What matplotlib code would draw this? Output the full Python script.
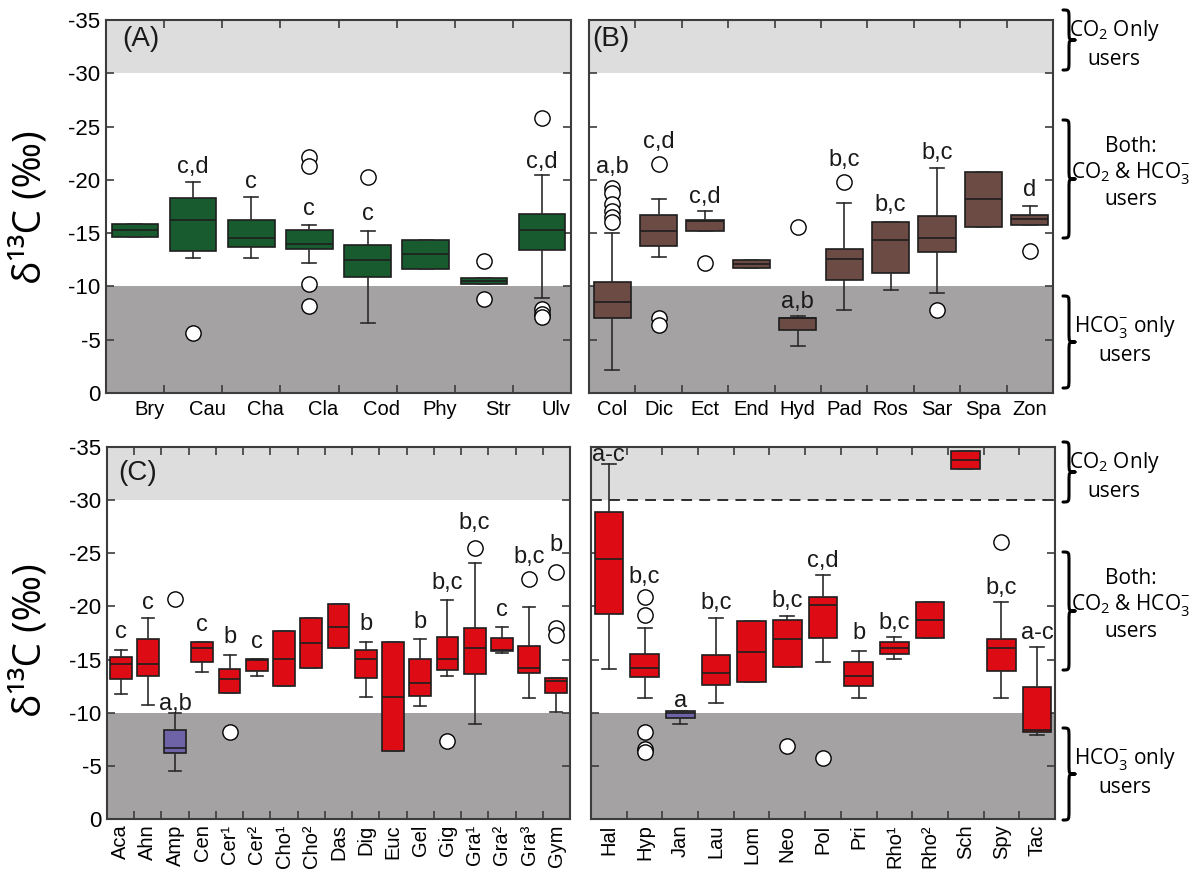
import numpy as np
import matplotlib
matplotlib.use("Agg")
import matplotlib.pyplot as plt
from matplotlib.path import Path
from matplotlib.patches import PathPatch

plt.rcParams['font.family'] = ['Liberation Sans', 'DejaVu Sans']
plt.rcParams['axes.unicode_minus'] = False
plt.rcParams['mathtext.fontset'] = 'custom'
plt.rcParams['mathtext.rm'] = 'Open Sans'
plt.rcParams['mathtext.it'] = 'Open Sans:italic'
plt.rcParams['mathtext.bf'] = 'Open Sans:bold'

# ---------------- data: delta 13C (per mil) ----------------
# Panel A - green algae
names_a = ["Bry", "Cau", "Cha", "Cla", "Cod", "Phy", "Str", "Ulv"]
q1_a = [-15.9, -18.3, -16.2, -15.25, -13.9, -14.4, -10.8, -16.8]
med_a = [-15.3, -16.2, -14.5, -14.0, -12.5, -13.0, -10.5, -15.3]
q3_a = [-14.6, -13.3, -13.7, -13.5, -10.9, -11.6, -10.25, -13.4]
wlo_a = [-15.9, -19.8, -18.4, -15.8, -15.2, -14.4, -10.8, -20.5]
whi_a = [-14.6, -12.7, -12.7, -12.2, -6.6, -11.6, -10.25, -8.9]
fliers_a = [[], [-5.6], [], [-22.1, -21.3, -10.25, -8.2], [-20.3], [],
            [-12.4, -8.8], [-25.8, -7.9, -7.4, -7.1]]
sig_a = [None, "c,d", "c", "c", "c", None, None, "c,d"]
sig_y_a = [None, -20.6, -19.2, -16.7, -16.2, None, None, -21.1]

# Panel B - brown algae
names_b = ["Col", "Dic", "Ect", "End", "Hyd", "Pad", "Ros", "Sar", "Spa", "Zon"]
q1_b = [-10.4, -16.7, -16.2, -12.5, -7.0, -13.5, -16.0, -16.6, -20.7, -16.7]
med_b = [-8.5, -15.2, -16.1, -12.1, -7.0, -12.6, -14.4, -14.5, -18.2, -16.3]
q3_b = [-7.0, -13.8, -15.2, -11.7, -5.9, -10.6, -11.3, -13.2, -15.6, -15.8]
wlo_b = [-15.0, -18.2, -17.1, -12.5, -7.25, -17.8, -16.0, -21.1, -20.7, -17.5]
whi_b = [-2.2, -12.8, -15.2, -11.7, -4.4, -7.8, -9.7, -9.4, -15.6, -15.8]
fliers_b = [[-19.2, -18.8, -17.7, -17.1, -16.5, -16.0], [-21.5, -7.0, -6.4],
            [-12.2], [], [-15.6], [-19.8], [], [-7.8], [], [-13.3]]
sig_b = ["a,b", "c,d", "c,d", None, "a,b", "b,c", "b,c", "b,c", None, "d"]
sig_y_b = [-20.6, -23.0, -17.8, None, -8.0, -21.3, -17.1, -22.0, None, -18.5]

# Panel C - red algae (Aca - Gym)
names_c = ["Aca", "Ahn", "Amp", "Cen", "Cer¹", "Cer²", "Cho¹", "Cho²", "Das",
           "Dig", "Euc", "Gel", "Gig", "Gra¹", "Gra²", "Gra³", "Gym"]
q1_c = [-15.2, -16.9, -8.4, -16.65, -14.1, -15.05, -17.65, -18.9, -20.2,
        -15.9, -16.7, -15.05, -17.1, -18.0, -17.0, -16.3, -13.3]
med_c = [-14.6, -14.6, -6.7, -16.1, -13.2, -15.0, -15.1, -16.55, -18.1,
         -15.1, -11.5, -12.75, -15.05, -16.05, -15.9, -14.2, -13.0]
q3_c = [-13.2, -13.5, -6.2, -14.8, -11.9, -13.9, -12.5, -14.2, -16.05,
        -13.3, -6.4, -11.6, -14.0, -13.6, -15.8, -13.7, -11.85]
wlo_c = [-15.9, -18.9, -10.0, -16.7, -15.4, -15.05, -17.65, -18.9, -20.2,
         -16.7, -16.7, -16.9, -20.6, -24.1, -18.1, -19.9, -13.3]
whi_c = [-11.8, -10.7, -4.5, -13.8, -11.9, -13.5, -12.5, -14.2, -16.05,
         -11.5, -6.4, -10.6, -13.5, -8.9, -15.6, -11.35, -10.05]
fliers_c = [[], [], [-20.7], [], [-8.15], [], [], [], [], [], [], [],
            [-7.3], [-25.5], [], [-22.6], [-23.2, -18.0, -17.3]]
sig_c = ["c", "c", "a,b", "c", "b", "c", None, None, None, "b", None, "b",
         "b,c", "b,c", "c", "b,c", "b"]
sig_y_c = [-17.0, -19.8, -10.3, -17.7, -16.55, -16.1, None, None, None,
           -17.8, None, -18.0, -21.6, -27.3, -19.1, -24.1, -25.2]

# Panel D - red algae (Hal - Tac)
names_d = ["Hal", "Hyp", "Jan", "Lau", "Lom", "Neo", "Pol", "Pri", "Rho¹",
           "Rho²", "Sch", "Spy", "Tac"]
q1_d = [-28.9, -15.5, -10.2, -15.4, -18.6, -18.7, -20.9, -14.8, -16.65,
        -20.4, -34.6, -16.9, -12.4]
med_d = [-24.5, -14.2, -10.0, -13.7, -15.7, -16.9, -20.1, -13.5, -16.1,
         -18.7, -33.8, -16.1, -8.4]
q3_d = [-19.3, -13.35, -9.5, -12.6, -12.85, -14.3, -17.0, -12.5, -15.5,
        -17.0, -32.9, -13.9, -8.15]
wlo_d = [-33.4, -18.0, -10.2, -18.9, -18.6, -19.1, -23.0, -15.8, -17.1,
         -20.4, -34.6, -20.4, -16.2]
whi_d = [-14.1, -11.4, -8.9, -10.9, -12.85, -14.3, -14.8, -11.4, -15.05,
         -17.0, -32.9, -11.4, -7.9]
fliers_d = [[], [-20.9, -19.2, -8.2, -6.6, -6.3], [], [], [], [-6.9], [-5.7],
            [], [], [], [], [-26.1], []]
sig_d = ["a-c", "b,c", "a", "b,c", None, "b,c", "c,d", "b", "b,c", None,
         None, "b,c", "a-c"]
sig_y_d = [-33.7, -22.2, -10.5, -19.8, None, -19.9, -23.7, -16.9, -17.9,
           None, None, -21.2, -16.9]

y_ticks = [0, -5, -10, -15, -20, -25, -30, -35]

# ---------------- styling ----------------
W, H = 1199, 873
GREEN = '#175b2e'
BROWN = '#6b4b44'
RED = '#dc0b14'
PURPLE = '#6e63a7'
LIGHT = '#dcdddc'
DARK = '#a4a2a3'
FRAME = '#3c3c3c'
EDGE = '#1e1e1e'

fig = plt.figure(figsize=(W / 100, H / 100), dpi=100)


def add_axes_px(left, top, right, bottom):
    return fig.add_axes([left / W, 1 - bottom / H, (right - left) / W,
                         (bottom - top) / H])


def draw_panel(ax, names, q1, med, q3, wlo, whi, fliers, colors, sig, sig_y,
               show_ylabels, rotate, label_shift=0.0, cap_px=14):
    n = len(names)
    pos = np.arange(n)
    stats = [dict(med=med[i], q1=q1[i], q3=q3[i], whislo=wlo[i],
                  whishi=whi[i], fliers=fliers[i]) for i in range(n)]
    ax_w_px = ax.get_position().width * W
    cap = cap_px / (ax_w_px / n)

    ax.axhspan(-35, -30, color=LIGHT, lw=0, zorder=0)
    ax.axhspan(-10, 0, color=DARK, lw=0, zorder=0)

    bp = ax.bxp(stats, positions=pos, widths=0.8, capwidths=cap,
                patch_artist=True, showfliers=True,
                boxprops=dict(edgecolor=EDGE, linewidth=1.2),
                medianprops=dict(color=EDGE, linewidth=1.2),
                whiskerprops=dict(color='#2b2b2b', linewidth=1.2),
                capprops=dict(color='#2b2b2b', linewidth=1.2),
                flierprops=dict(marker='o', markerfacecolor='white',
                                markeredgecolor='black', markersize=11,
                                markeredgewidth=1.0))
    for patch, c in zip(bp['boxes'], colors):
        patch.set_facecolor(c)

    for i, (s, y) in enumerate(zip(sig, sig_y)):
        if s is not None:
            ax.text(i, y, s, ha='center', va='baseline', fontsize=17,
                    color='#1a1a1a', zorder=5)

    ax.set_xlim(-0.5, n - 0.5)
    ax.set_ylim(0, -35)
    ax.set_yticks(y_ticks)
    if show_ylabels:
        ax.set_yticklabels([str(v) for v in y_ticks], fontsize=16)
    else:
        ax.set_yticklabels([])
    ax.set_xticks(pos[:-1] + 0.5)
    ax.set_xticklabels([])
    ax.set_xticks(pos + label_shift, minor=True)
    ax.set_xticklabels(names, minor=True, fontsize=14.5,
                       rotation=90 if rotate else 0)
    ax.tick_params(which='major', direction='in', length=6, width=1.2,
                   color=FRAME, top=True, bottom=True, left=True, right=True,
                   pad=4)
    ax.tick_params(which='minor', length=0, pad=5 if not rotate else 4)
    for sp in ax.spines.values():
        sp.set_color(FRAME)
        sp.set_linewidth(1.5)
        sp.set_zorder(6)


ax_a = add_axes_px(106, 20, 571, 393)
ax_b = add_axes_px(589, 20, 1053, 393)
ax_c = add_axes_px(107, 447, 570, 819)
ax_d = add_axes_px(591, 447, 1055, 819)

draw_panel(ax_a, names_a, q1_a, med_a, q3_a, wlo_a, whi_a, fliers_a,
           [GREEN] * len(names_a), sig_a, sig_y_a, True, False,
           label_shift=0.24)
draw_panel(ax_b, names_b, q1_b, med_b, q3_b, wlo_b, whi_b, fliers_b,
           [BROWN] * len(names_b), sig_b, sig_y_b, False, False)
colors_c = [PURPLE if nm == "Amp" else RED for nm in names_c]
draw_panel(ax_c, names_c, q1_c, med_c, q3_c, wlo_c, whi_c, fliers_c,
           colors_c, sig_c, sig_y_c, True, True, cap_px=12)
colors_d = [PURPLE if nm == "Jan" else RED for nm in names_d]
draw_panel(ax_d, names_d, q1_d, med_d, q3_d, wlo_d, whi_d, fliers_d,
           colors_d, sig_d, sig_y_d, False, True)
ax_d.axhline(-30, color='#1e1e1e', lw=1.3, ls=(0, (6, 4)), zorder=1)

# panel letters
for ax, lab, xy in [(ax_a, "(A)", (0.035, 0.95)), (ax_b, "(B)", (0.006, 0.95)),
                    (ax_c, "(C)", (0.025, 0.93))]:
    ax.text(xy[0], xy[1], lab, transform=ax.transAxes, fontsize=20,
            ha='left', va='center', color='#1a1a1a', zorder=7)

# y-axis titles
ylab_font = ['Open Sans', 'DejaVu Sans']
for yc in (207, 640):
    fig.text(30 / W, 1 - yc / H, "δ¹³C (‰)", rotation=90, fontsize=28,
             family=ylab_font, ha='center', va='center')


# curly braces and carbon-use annotations on the right
def brace(x0, yt, yb, w=12, lw=2.2):
    ym = (yt + yb) / 2
    xm = x0 + w / 2
    r = min(9, (yb - yt) / 6)
    pts = [(x0, yt), (xm, yt), (xm, yt), (xm, yt + r),
           (xm, ym - r),
           (xm, ym), (xm, ym), (x0 + w, ym),
           (xm, ym), (xm, ym), (xm, ym + r),
           (xm, yb - r),
           (xm, yb), (xm, yb), (x0, yb)]
    codes = [Path.MOVETO, Path.CURVE4, Path.CURVE4, Path.CURVE4,
             Path.LINETO,
             Path.CURVE4, Path.CURVE4, Path.CURVE4,
             Path.CURVE4, Path.CURVE4, Path.CURVE4,
             Path.LINETO,
             Path.CURVE4, Path.CURVE4, Path.CURVE4]
    verts = [(x / W, 1 - y / H) for x, y in pts]
    fig.add_artist(PathPatch(Path(verts, codes), transform=fig.transFigure,
                             fill=False, lw=lw, edgecolor='black',
                             capstyle='round', joinstyle='round'))


def note(xc, yc, s, spacing=1.3):
    fig.text(xc / W, 1 - yc / H, s, fontsize=15, family=ylab_font,
             ha='center', va='center', multialignment='center',
             linespacing=spacing)


for dy in (0, 432):
    brace(1063, 10 + dy, 70 + dy)
    note(1114, 44 + dy, "CO$_2$ Only\nusers", 1.35)
    brace(1063, 120 + dy, 238 + dy)
    note(1131, 173 + dy, "Both:\nCO$_2$ & HCO$_3^{-}$\nusers", 1.2)
    brace(1063, 296 + dy, 388 + dy)
    note(1125, 340 + dy, "HCO$_3^{-}$ only\nusers", 1.3)

fig.savefig("out.png", dpi=100)
